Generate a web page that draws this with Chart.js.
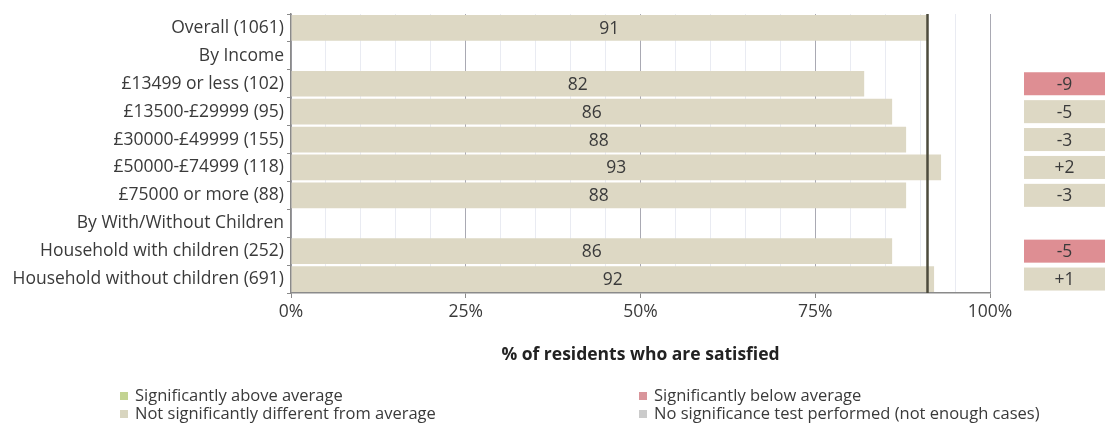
<!DOCTYPE html>
<html>
<head>
<meta charset="utf-8">
<script src="https://cdn.jsdelivr.net/npm/chart.js@4/dist/chart.umd.min.js"></script>
<style>
  body { margin: 0; background: #fff; font-family: "Open Sans", Lato, sans-serif; }
  #wrap { position: relative; width: 1107px; height: 432px; }
  .leg { position: absolute; font-size: 16.5px; color: #3a3a3a; white-space: nowrap; line-height: 18px; }
  .leg i { display: inline-block; width: 8px; height: 8px; margin-right: 7px; vertical-align: 1px; }
</style>
</head>
<body>
<div id="wrap">
  <canvas id="myChart" width="1107" height="432"></canvas>
  <div class="leg" style="left:120px;top:386px"><i style="background:#c3d392"></i>Significantly above average</div>
  <div class="leg" style="left:120px;top:404px"><i style="background:#d8d5bf"></i>Not significantly different from average</div>
  <div class="leg" style="left:639px;top:386px"><i style="background:#d9959b"></i>Significantly below average</div>
  <div class="leg" style="left:639px;top:404px"><i style="background:#cbcbcb"></i>No significance test performed (not enough cases)</div>
</div>
<script>
// rows of the chart, header rows have no value
var categories = ["Overall (1061)", "By Income", "£13499 or less (102)", "£13500-£29999 (95)",
    "£30000-£49999 (155)", "£50000-£74999 (118)", "£75000 or more (88)",
    "By With/Without Children", "Household with children (252)", "Household without children (691)"];
var satisfied = [91, null, 82, 86, 88, 93, 88, null, 86, 92];
// difference from overall, and significance: 'below', 'above', 'same'
var diffs = [null, null, "-9", "-5", "-3", "+2", "-3", null, "-5", "+1"];
var significance = [null, null, "below", "same", "same", "same", "same", null, "below", "same"];
var xTicks = [0, 25, 50, 75, 100];
var overallAverage = 91;

var barColour = "#ddd8c4";
var sigColours = { above: "#c3d392", below: "#de8e93", same: "#ddd8c4", none: "#cbcbcb" };
var textColour = "#3a3a3a";
var fontFamily = "'Open Sans', Lato, sans-serif";
var fontSize = 17.5;

// value written in the middle of each bar
var barLabels = {
    id: "barLabels",
    afterDatasetsDraw: function(chart) {
        var ctx = chart.ctx;
        var meta = chart.getDatasetMeta(0);
        ctx.save();
        ctx.font = fontSize + "px " + fontFamily;
        ctx.fillStyle = textColour;
        ctx.textAlign = "center";
        ctx.textBaseline = "middle";
        meta.data.forEach(function(bar, i) {
            if (satisfied[i] == null) return;
            ctx.fillText(String(satisfied[i]), (bar.x + bar.base) / 2, bar.y + 1);
        });
        ctx.restore();
    }
};

// overall average line and the difference boxes on the right
var extras = {
    id: "extras",
    afterDatasetsDraw: function(chart) {
        var ctx = chart.ctx;
        var area = chart.chartArea;
        var xs = chart.scales.x;
        var ys = chart.scales.y;
        ctx.save();

        var ax = Math.round(xs.getPixelForValue(overallAverage)) + 0.5;
        ctx.strokeStyle = "#4d4b3d";
        ctx.lineWidth = 2.5;
        ctx.beginPath();
        ctx.moveTo(ax, area.top);
        ctx.lineTo(ax, area.bottom);
        ctx.stroke();

        var boxLeft = 1024, boxWidth = 81, boxHeight = 23;
        ctx.font = fontSize + "px " + fontFamily;
        ctx.textAlign = "center";
        ctx.textBaseline = "middle";
        for (var i = 0; i < diffs.length; i++) {
            if (diffs[i] == null) continue;
            var cy = ys.getPixelForValue(i);
            ctx.fillStyle = sigColours[significance[i]];
            ctx.fillRect(boxLeft, cy - boxHeight / 2, boxWidth, boxHeight);
            ctx.fillStyle = textColour;
            ctx.fillText(diffs[i], boxLeft + boxWidth / 2, cy + 1);
        }
        ctx.restore();
    }
};

var mychart = new Chart(document.getElementById("myChart"), {
    type: "bar",
    data: {
        labels: categories,
        datasets: [{
            data: satisfied,
            backgroundColor: barColour,
            barPercentage: 1,
            categoryPercentage: 0.92
        }]
    },
    options: {
        indexAxis: "y",
        responsive: false,
        animation: false,
        devicePixelRatio: 1,
        layout: { padding: { top: 14, right: 117, bottom: 59, left: 0 } },
        plugins: { legend: { display: false }, tooltip: { enabled: false } },
        scales: {
            x: {
                min: 0,
                max: 100,
                afterFit: function(scale) { scale.height = 80; },
                afterBuildTicks: function(scale) {
                    var t = [];
                    for (var v = 0; v <= 100; v += 5) t.push({ value: v });
                    scale.ticks = t;
                },
                ticks: {
                    autoSkip: false,
                    maxRotation: 0,
                    padding: 4,
                    color: textColour,
                    font: { family: fontFamily, size: fontSize },
                    callback: function(v) { return xTicks.indexOf(v) >= 0 ? v + "%" : ""; }
                },
                grid: {
                    color: function(c) { return c.tick && c.tick.value % 25 === 0 ? "#a9a9b3" : "#e9ebf2"; },
                    tickColor: function(c) { return c.tick && c.tick.value % 25 === 0 ? "#8a8a8a" : "rgba(0,0,0,0)"; },
                    tickLength: 5,
                    lineWidth: 1
                },
                border: { color: "#8a8a8a", width: 1.5 },
                title: {
                    display: true,
                    text: "% of residents who are satisfied",
                    color: "#222",
                    font: { family: fontFamily, size: fontSize, weight: "bold" },
                    padding: { top: 0, bottom: 7 }
                }
            },
            y: {
                afterFit: function(scale) { scale.width = 291; },
                ticks: {
                    autoSkip: false,
                    padding: 3,
                    color: textColour,
                    font: { family: fontFamily, size: fontSize }
                },
                grid: {
                    offset: true,
                    drawOnChartArea: false,
                    tickLength: 4,
                    color: "#8a8a8a"
                },
                border: { color: "#8a8a8a", width: 1.5 }
            }
        }
    },
    plugins: [barLabels, extras]
});
</script>
</body>
</html>
